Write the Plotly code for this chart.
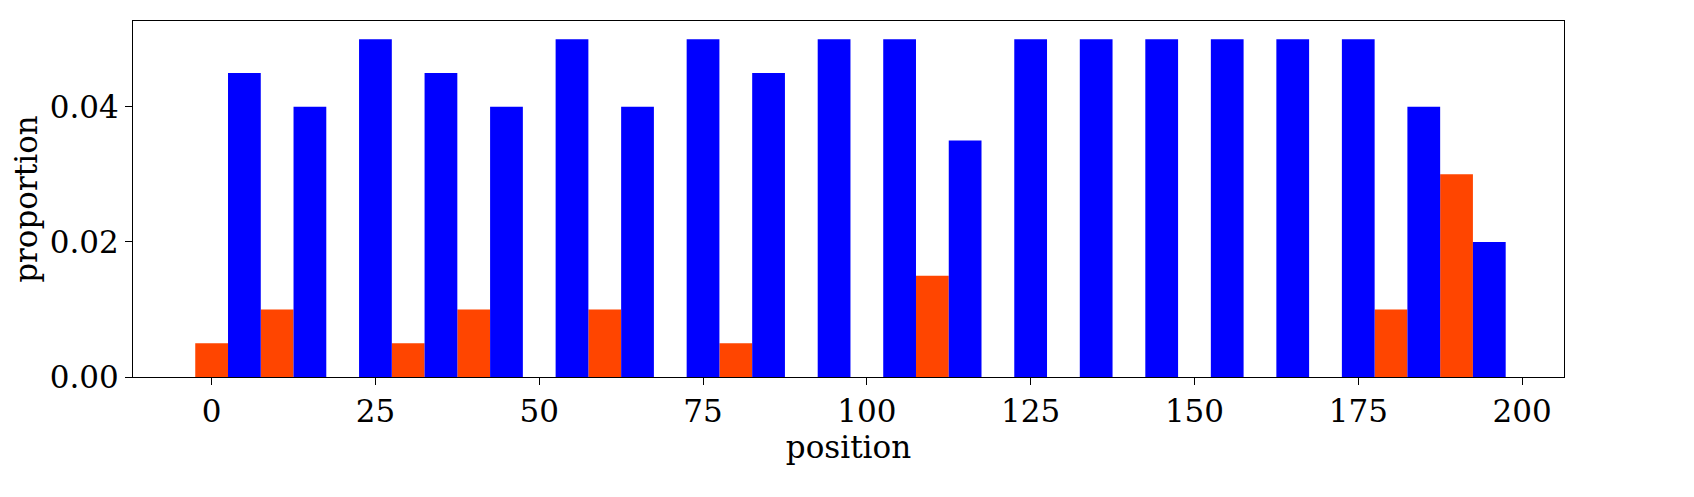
import plotly.graph_objects as go

red_pos = [0, 10, 20, 30, 40, 50, 60, 70, 80, 90, 100, 110, 120, 130, 140, 150, 160, 170, 180, 190]
red_vals = [0.005, 0.01, 0, 0.005, 0.01, 0, 0.01, 0, 0.005, 0, 0, 0.015, 0, 0, 0, 0, 0, 0, 0.01, 0.03]
blue_pos = [5, 15, 25, 35, 45, 55, 65, 75, 85, 95, 105, 115, 125, 135, 145, 155, 165, 175, 185, 195]
blue_vals = [0.045, 0.04, 0.05, 0.045, 0.04, 0.05, 0.04, 0.05, 0.045, 0.05,
             0.05, 0.035, 0.05, 0.05, 0.05, 0.05, 0.05, 0.05, 0.04, 0.02]

fig = go.Figure()
fig.add_trace(go.Bar(x=red_pos, y=red_vals, width=5, marker=dict(color="#ff4500", line_width=0)))
fig.add_trace(go.Bar(x=blue_pos, y=blue_vals, width=5, marker=dict(color="#0000ff", line_width=0)))

font = dict(family="DejaVu Serif, Liberation Serif, serif", size=31, color="black")
axis = dict(showline=True, mirror=True, linecolor="black", linewidth=1, ticks="outside",
            ticklen=7, tickcolor="black", showgrid=False, zeroline=False, tickfont=font)
fig.update_layout(
    width=1694, height=497, showlegend=False, barmode="overlay",
    plot_bgcolor="white", paper_bgcolor="white",
    margin=dict(l=122, r=138, t=12, b=128),
    font=font,
)
fig.update_xaxes(axis, range=[-12, 206.4], tickvals=[0, 25, 50, 75, 100, 125, 150, 175, 200],
                 title=dict(text="position", font=font, standoff=6))
fig.update_yaxes(axis, range=[0, 0.0527], tickvals=[0, 0.02, 0.04], tickformat=".2f",
                 title=dict(text="proportion", font=font, standoff=8))
fig.write_html("out.html")
